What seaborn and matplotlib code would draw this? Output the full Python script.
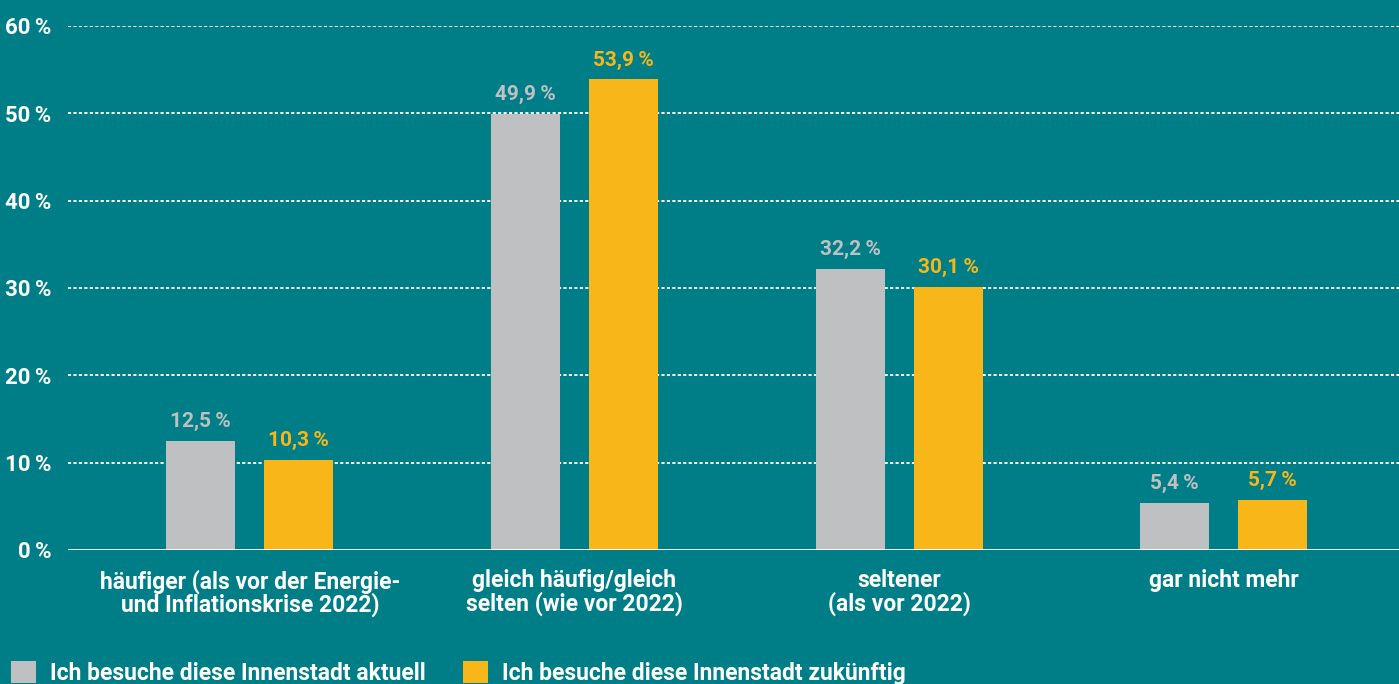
import matplotlib
matplotlib.use("Agg")
import matplotlib.pyplot as plt
import seaborn as sns
import pandas as pd
from matplotlib.patches import Patch

categories = [
    "häufiger (als vor der Energie-\nund Inflationskrise 2022)",
    "gleich häufig/gleich\nselten (wie vor 2022)",
    "seltener\n(als vor 2022)",
    "gar nicht mehr",
]
series_names = [
    "Ich besuche diese Innenstadt aktuell",
    "Ich besuche diese Innenstadt zukünftig",
]
aktuell = [12.5, 49.9, 32.2, 5.4]
zukuenftig = [10.3, 53.9, 30.1, 5.7]
y_ticks = [0, 10, 20, 30, 40, 50, 60]
y_tick_labels = ["0\u2009%", "10\u2009%", "20\u2009%", "30\u2009%", "40\u2009%", "50\u2009%", "60\u2009%"]

BG = "#007E88"
GRAY = "#BFC0C2"
YELLOW = "#F8B619"
colors = [GRAY, YELLOW]

sns.set_theme(style="white")
plt.rcParams["font.family"] = ["Roboto", "DejaVu Sans"]

df = pd.DataFrame({
    "Kategorie": categories * 2,
    "Serie": [series_names[0]] * 4 + [series_names[1]] * 4,
    "Wert": aktuell + zukuenftig,
})

fig = plt.figure(figsize=(13.99, 6.84), dpi=100, facecolor=BG)
ax = fig.add_axes([68 / 1399, (684 - 550) / 684, 1 - 68 / 1399, (550 - 26) / 684])
ax.set_facecolor(BG)

sns.barplot(data=df, x="Kategorie", y="Wert", hue="Serie", palette=colors,
            width=0.604, gap=0.296, order=categories, hue_order=series_names,
            ax=ax, legend=False, zorder=3, linewidth=0, saturation=1)

ax.set_xlim(-0.56, 3.54)
ax.set_ylim(0, 60)
ax.set_yticks(y_ticks)
ax.set_yticklabels(y_tick_labels, color="white", fontsize=16, fontweight="bold")
ax.tick_params(axis="y", length=0, pad=12)
ax.tick_params(axis="x", length=0, pad=14)
for lbl in ax.get_xticklabels():
    lbl.set_color("white")
    lbl.set_fontsize(16.5)
    lbl.set_fontweight("bold")
    lbl.set_linespacing(0.95)
ax.set_xlabel("")
ax.set_ylabel("")
for s in ax.spines.values():
    s.set_visible(False)

for t in y_ticks[1:]:
    ax.axhline(t, color="white", lw=1.4, ls=(0, (1.6, 1.2)), zorder=1)
ax.axhline(0, color="white", lw=2, zorder=4)

for container, col in zip(ax.containers, colors):
    for bar in container:
        h = bar.get_height()
        ax.annotate(f"{h:.1f}".replace(".", ",") + "\u2009%",
                    (bar.get_x() + bar.get_width() / 2, h),
                    xytext=(0, 7), textcoords="offset points",
                    ha="center", va="bottom", color=col,
                    fontsize=15, fontweight="bold")

handles = [Patch(facecolor=c, edgecolor="none") for c in colors]
leg = fig.legend(handles, series_names, loc="upper left",
                 bbox_to_anchor=(2 / 1399, 1 - 652 / 684), ncol=2,
                 frameon=False, fontsize=16.5, handlelength=1.1, handleheight=1.1,
                 handletextpad=0.6, columnspacing=1.6, borderaxespad=0)
for t in leg.get_texts():
    t.set_color("white")
    t.set_fontweight("bold")

fig.savefig("out.png", dpi=100, facecolor=BG)
